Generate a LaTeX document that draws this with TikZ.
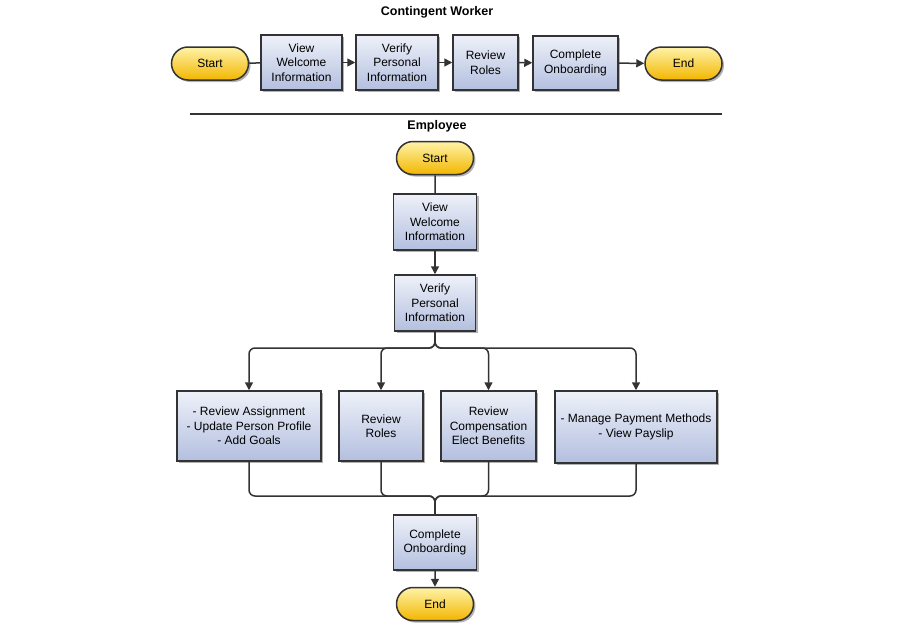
\documentclass[tikz,border=0pt]{standalone}
\usepackage{fontspec}
\setmainfont{Liberation Sans}
\usetikzlibrary{shapes.misc,arrows.meta,shadows,positioning}
\definecolor{boxtop}{HTML}{EEF1F9}
\definecolor{boxbot}{HTML}{B3BFDF}
\definecolor{ytop}{HTML}{FFF3A8}
\definecolor{ybot}{HTML}{F2B600}
\definecolor{edge}{HTML}{333333}
\tikzset{
  boxnode/.style={draw=edge, line width=1.5pt, top color=boxtop, bottom color=boxbot,
    align=center, inner sep=0pt, font=\fontsize{12}{14.5}\selectfont,
    drop shadow={shadow xshift=2pt, shadow yshift=-2pt, fill=black, opacity=0.3}},
  term/.style={draw=edge, line width=1.5pt, rounded rectangle, top color=ytop, bottom color=ybot,
    minimum width=77pt, minimum height=33pt, inner sep=0pt, font=\fontsize{12}{14}\selectfont,
    drop shadow={shadow xshift=2pt, shadow yshift=-2pt, fill=black, opacity=0.3}},
  conn/.style={draw=edge, line width=1.5pt},
  arr/.style={conn, -{Triangle[length=8pt,width=8pt]}},
  ttl/.style={font=\bfseries\fontsize{12.5}{14}\selectfont}
}
\begin{document}
\begin{tikzpicture}[x=1pt,y=-1pt]
\useasboundingbox (0,0) rectangle (900,640);
\fill[white] (0,0) rectangle (900,640);
% Contingent worker
\node[ttl] (t1) at (437,12) {Contingent Worker};
\node[term] (s1) at (210,63.5) {Start};
\node[boxnode, minimum width=81pt, minimum height=55pt] (a1) at (301.5,62.5) {View\\Welcome\\Information};
\node[boxnode, minimum width=82pt, minimum height=55pt] (a2) at (397,62.5) {Verify\\Personal\\Information};
\node[boxnode, minimum width=65pt, minimum height=55pt] (a3) at (485.5,62.5) {Review\\Roles};
\node[boxnode, minimum width=85pt, minimum height=54pt] (a4) at (575.5,63) {Complete\\Onboarding};
\node[term] (e1) at (683.5,63.5) {End};
\draw[conn] (s1) -- (a1);
\draw[arr] (a1) -- (a2);
\draw[arr] (a2) -- (a3);
\draw[arr] (a3) -- (a4);
\draw[arr] (a4) -- (e1);
% separator
\coordinate (l1) at (190,114);
\coordinate (l2) at (722,114);
\draw[line width=1.3pt, edge] (l1) -- (l2);
% Employee
\node[ttl] (t2) at (437,126) {Employee};
\node[term] (s2) at (435,158) {Start};
\node[boxnode, minimum width=83pt, minimum height=56pt] (v1) at (435,222) {View\\Welcome\\Information};
\node[boxnode, minimum width=81pt, minimum height=56pt] (v2) at (435,303) {Verify\\Personal\\Information};
\node[boxnode, minimum width=144pt, minimum height=70pt] (b1) at (249,426) {- Review Assignment\\- Update Person Profile\\- Add Goals};
\node[boxnode, minimum width=84pt, minimum height=70pt] (b2) at (381,426) {Review\\Roles};
\node[boxnode, minimum width=95pt, minimum height=70pt] (b3) at (488.5,426) {Review\\Compensation\\Elect Benefits};
\node[boxnode, minimum width=162pt, minimum height=72pt] (b4) at (636,427) {- Manage Payment Methods\\- View Payslip};
\node[boxnode, minimum width=83pt, minimum height=55pt] (c1) at (435,542.5) {Complete\\Onboarding};
\node[term] (e2) at (435,604) {End};
\draw[conn] (s2) -- (v1);
\draw[arr] (v1) -- (v2);
\coordinate (j1) at (435,348);
\coordinate (j2) at (435,496);
\foreach \b in {b1,b2,b3,b4}{
  \draw[arr, rounded corners=6pt] (v2.south) -- (j1) -| (\b.north);
  \draw[conn, rounded corners=6pt] (\b.south) |- (j2) -- (c1.north);
}
\draw[arr] (c1) -- (e2);
\end{tikzpicture}
\end{document}
